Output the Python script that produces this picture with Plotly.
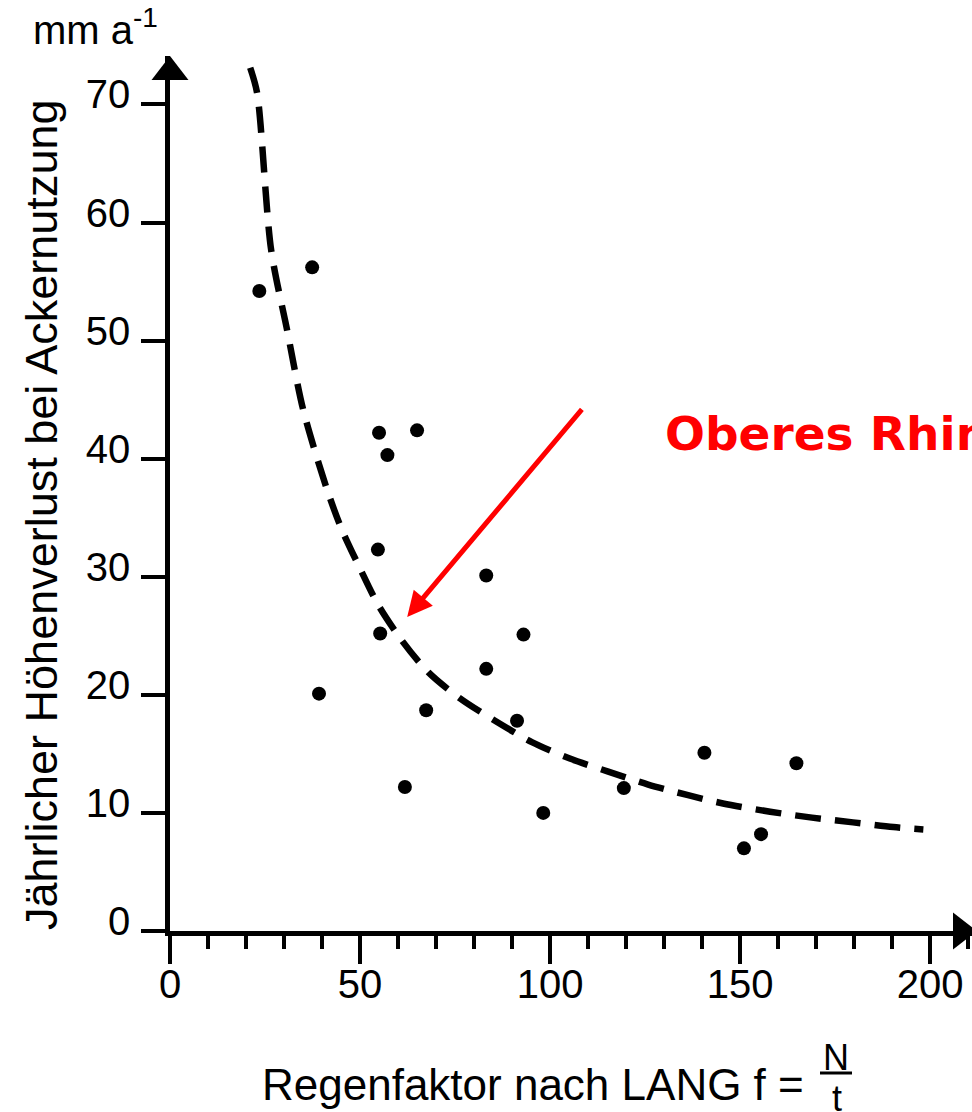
import plotly.graph_objects as go

# ---- data ----
regen_x = [23.5, 37.4, 39.2, 55.0, 57.2, 65.0, 54.7, 55.3, 61.8, 67.4,
           83.2, 83.2, 93.0, 91.3, 98.2, 119.4, 140.6, 164.8, 151.0, 155.5]
loss_y = [54.2, 56.2, 20.1, 42.2, 40.3, 42.4, 32.3, 25.2, 12.2, 18.7,
          30.1, 22.2, 25.1, 17.8, 10.0, 12.1, 15.1, 14.2, 7.0, 8.2]

curve_x = [21.1, 22.9, 26.6, 30.8, 35.0, 41.3, 45.2, 50.0, 54.8, 61.0, 68.0,
           76.3, 85.5, 95.2, 105.2, 115.3, 125.8, 136.3, 145.5, 157.9, 168.9,
           179.7, 190.3, 198.2]
curve_y = [73.1, 71.0, 57.7, 50.9, 44.2, 37.4, 34.0, 30.7, 27.6, 24.6, 21.9,
           19.7, 17.8, 16.0, 14.6, 13.5, 12.4, 11.5, 10.8, 10.1, 9.6,
           9.2, 8.8, 8.6]

x_ticks = [0, 50, 100, 150, 200]
y_ticks = [0, 10, 20, 30, 40, 50, 60, 70]

y_title = "Jährlicher Höhenverlust bei Ackernutzung"
x_title = "Regenfaktor nach LANG f ="
unit_label = "mm a<sup>-1</sup>"
region_label = "Oberes Rhinluch"
arrow_tip = (62.4, 26.6)
arrow_tail = (108.7, 44.3)

FONT = "Liberation Sans, Arial, sans-serif"

W, H = 972, 1112
L, R, T, B = 170, 0, 56, 181
PW, PH = W - L - R, H - T - B
X_MAX, Y_MAX = 211, 74.1


def px(xp):
    return (xp - L) / PW


def py(yp):
    return (H - B - yp) / PH


fig = go.Figure()

fig.add_trace(go.Scatter(
    x=curve_x, y=curve_y, mode="lines",
    line=dict(color="black", width=6.5, dash="26px,14px", shape="spline", smoothing=0.8),
    hoverinfo="skip", showlegend=False, cliponaxis=False,
))

fig.add_trace(go.Scatter(
    x=regen_x, y=loss_y, mode="markers",
    marker=dict(color="black", size=14),
    showlegend=False, cliponaxis=False,
))

# axis arrow heads (decoration placed at the axis ends)
fig.add_trace(go.Scatter(
    x=[0], y=[Y_MAX - 16 / (PH / Y_MAX)], mode="markers",
    marker=dict(symbol="triangle-up", size=32, color="black", line=dict(width=0)),
    hoverinfo="skip", showlegend=False, cliponaxis=False,
))
fig.add_trace(go.Scatter(
    x=[(961 - L) / (PW / X_MAX)], y=[0], mode="markers",
    marker=dict(symbol="triangle-right", size=32, color="black", line=dict(width=0)),
    hoverinfo="skip", showlegend=False, cliponaxis=False,
))

annotations = [
    # red arrow
    dict(x=arrow_tip[0], y=arrow_tip[1], xref="x", yref="y",
         ax=arrow_tail[0], ay=arrow_tail[1], axref="x", ayref="y", text="",
         showarrow=True, arrowhead=2, arrowsize=1.0, arrowwidth=5, arrowcolor="#ff0000"),
    dict(x=px(663), y=py(433), xref="paper", yref="paper", xanchor="left", yanchor="middle",
         text="<b>" + region_label + "</b>", showarrow=False,
         font=dict(family="DejaVu Sans, Verdana, sans-serif", size=47, color="#ff0000")),
    # unit
    dict(x=px(31), y=py(27), xref="paper", yref="paper", xanchor="left", yanchor="middle",
         text=unit_label, showarrow=False, font=dict(family=FONT, size=40, color="black")),
    # y title
    dict(x=px(41), y=py(515), xref="paper", yref="paper", xanchor="center", yanchor="middle",
         text=y_title, textangle=-90, showarrow=False,
         font=dict(family=FONT, size=45, color="black")),
    # x title
    dict(x=px(806), y=py(1084), xref="paper", yref="paper", xanchor="right", yanchor="middle",
         text=x_title, showarrow=False, font=dict(family=FONT, size=44, color="black")),
    dict(x=px(836), y=py(1057), xref="paper", yref="paper", xanchor="center", yanchor="middle",
         text="N", showarrow=False, font=dict(family=FONT, size=36, color="black")),
    dict(x=px(837), y=py(1098), xref="paper", yref="paper", xanchor="center", yanchor="middle",
         text="t", showarrow=False, font=dict(family=FONT, size=36, color="black")),
]

fig.add_shape(type="line", xref="paper", yref="paper",
              x0=px(820), x1=px(852), y0=py(1073), y1=py(1073),
              line=dict(color="black", width=3))

fig.update_layout(
    width=W, height=H,
    margin=dict(l=L, r=R, t=T, b=B, pad=0),
    paper_bgcolor="white", plot_bgcolor="white",
    annotations=annotations,
    showlegend=False,
    xaxis=dict(
        range=[0, X_MAX], tickvals=x_ticks, ticktext=[str(v) for v in x_ticks],
        showline=True, linecolor="black", linewidth=4.5,
        ticks="outside", ticklen=28, tickwidth=4, tickcolor="black",
        minor=dict(dtick=10, tick0=0, ticks="outside", ticklen=13, tickwidth=4, tickcolor="black"),
        showgrid=False, zeroline=False,
        tickfont=dict(family=FONT, size=40, color="black"),
        ticklabelstandoff=-14,
    ),
    yaxis=dict(
        range=[0, Y_MAX], tickvals=y_ticks, ticktext=[str(v) for v in y_ticks],
        showline=True, linecolor="black", linewidth=4.5,
        ticks="outside", ticklen=24, tickwidth=4, tickcolor="black",
        showgrid=False, zeroline=False,
        tickfont=dict(family=FONT, size=40, color="black"),
        ticklabelstandoff=3, ticklabelshift=-10,
    ),
)

fig.write_html("out.html")
